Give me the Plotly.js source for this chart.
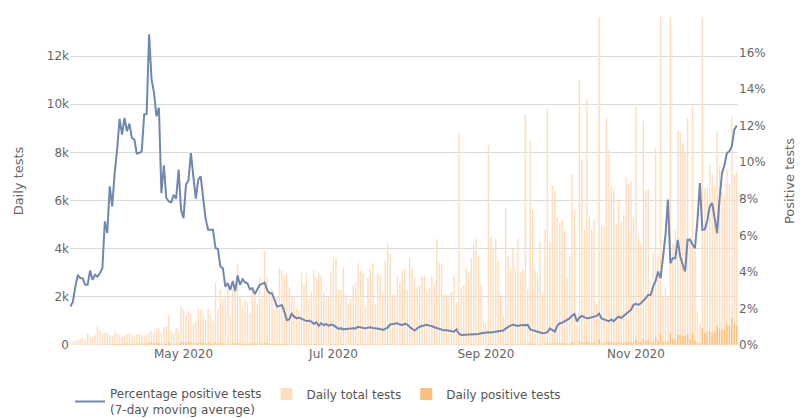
<!DOCTYPE html>
<html>
<head>
<meta charset="utf-8">
<script src="https://cdn.plot.ly/plotly-3.0.1.min.js"></script>
<style>html,body{margin:0;padding:0;background:#fff;}#chart{width:807px;height:418px;}</style>
</head>
<body>
<div id="chart"></div>
<script>
// First date of the series (one value per day)
const startDate = '2020-03-16';

const dailyTotalTests = [
  120,150,180,220,250,300,220,480,380,300,420,750,600,450,
  500,550,420,380,560,500,450,350,400,480,520,430,380,450,500,420,380,
  450,550,600,500,650,700,550,750,800,1250,600,500,700,550,1600,
  1500,1200,1400,1300,900,1000,1500,1450,1300,1050,1550,1300,1000,
  2600,
  1500,2300,1900,2000,2400,1200,2300,2400,3400,2000,1600,
  1900,1800,1300,2400,2100,1700,2800,1900,3900,
  2800,2200,2300,1500,2000,3200,3100,2900,3000,2400,2000,2000,1500,1400,3000,2600,3000,1900,2200,3100,2800,3000,2900,2200,1900,2000,3000,
  3700,3600,2300,2300,3200,2100,1700,1900,2500,2600,
  3400,3100,3000,1600,2800,3200,3400,1700,3000,2900,
  2200,3500,4200,3800,2100,2100,2900,2600,3100,3200,
  2300,3600,3200,2800,2400,2500,2900,2900,2300,2400,
  2900,2500,4400,3400,3400,2100,2100,2100,2200,2900,
  1800,8800,2400,2500,3200,3000,3600,4200,4400,
  3700,2500,1000,900,8300,4500,4000,4400,3500,2100,
  1200,5700,3700,3200,4000,3200,4400,3000,3100,9600,
  2300,8500,5600,3100,2900,4300,2200,4800,9800,4300,
  6600,6400,5300,5100,5200,4800,2800,3700,7100,5600,
  800,11000,7700,4800,10200,5300,4800,5200,1700,16000,
  5000,4900,9400,8100,
  6600,6500,5000,6000,5100,5400,7000,6700,6800,5300,
  9900,4500,4200,9300,6400,6500,2200,3800,8200,3700,
  16000,2000,2400,2000,16000,4200,4800,8900,8900,8400,
  8000,9400,4500,9900,3900,1400,900,16000,6500,6500,
  7500,7100,6600,8900,7500,6400,6200,7300,6700,9500,
  7100,7200
];

const dailyPositiveTests = [
  3,4,5,7,8,10,8,18,15,12,17,32,27,20,
  28,35,30,28,45,50,55,42,50,58,62,50,44,52,58,60,55,
  62,80,95,65,80,85,50,60,60,100,48,38,55,40,120,
  110,85,120,110,80,80,95,90,80,60,80,60,48,
  110,
  60,75,60,55,60,35,65,70,100,60,50,
  55,50,40,70,60,50,70,50,90,
  70,50,50,35,40,55,50,45,40,35,30,28,22,20,40,32,35,25,28,36,32,33,30,25,22,24,33,
  38,36,22,20,30,20,17,20,24,25,
  30,30,29,16,28,30,32,17,30,30,
  22,33,40,40,22,24,30,27,32,33,
  22,33,30,25,22,23,26,26,20,20,
  24,20,36,25,24,15,15,15,16,20,
  14,50,14,14,18,18,20,24,26,
  30,18,8,6,60,30,28,32,25,16,
  10,45,30,28,35,30,40,28,28,90,
  20,80,50,26,25,35,18,40,90,45,
  80,85,75,70,75,70,40,55,110,90,
  12,180,120,80,160,90,80,85,30,230,
  80,75,150,130,
  110,110,85,100,90,95,130,130,140,110,
  220,110,110,250,190,200,80,150,330,160,
  450,130,150,120,500,250,280,450,420,380,
  350,450,250,480,200,80,60,700,500,550,
  600,500,550,800,700,600,650,850,800,1100,
  850,800
];

const percentPositive7d = [
  2.10,2.37,3.19,3.84,3.65,3.65,3.29,3.29,4.07,3.56,
  3.84,3.74,3.93,4.20,6.76,6.12,8.68,7.58,9.41,10.68,
  12.37,11.51,12.42,11.69,12.11,11.32,11.23,10.47,10.50,10.59,
  12.60,12.64,16.99,14.52,13.79,12.51,12.97,8.31,9.82,8.04,
  7.85,7.80,8.22,8.00,9.59,7.40,6.94,8.77,9.00,10.50,
  9.22,8.00,9.04,9.22,8.00,6.90,
  6.30,6.30,6.30,5.30,5.25,4.29,4.20,3.19,3.38,3.01,
  3.50,2.95,3.80,3.29,3.60,3.43,3.38,3.05,3.10,2.79,
  3.01,3.29,3.34,3.41,3.01,2.83,2.83,2.47,2.10,2.14,
  2.19,1.83,1.37,1.40,1.70,1.55,1.46,1.50,1.43,1.37,
  1.31,1.33,1.28,1.15,1.25,1.05,1.20,1.08,1.15,1.05,
  1.12,1.08,1.00,0.88,0.92,
  0.85,0.88,0.91,0.90,0.92,0.91,1.00,0.98,0.94,0.91,
  0.95,0.97,0.93,0.92,0.91,0.88,0.82,0.88,0.95,1.12,
  1.15,1.18,1.19,1.12,1.10,1.16,1.12,0.98,0.88,0.79,
  0.90,1.00,1.04,1.08,1.10,1.06,1.04,0.97,0.92,0.86,
  0.82,0.80,0.80,0.79,0.76,0.73,0.86,0.62,0.55,0.56,
  0.55,0.57,0.55,0.58,0.60,
  0.60,0.64,0.66,0.72,0.70,0.68,0.70,0.73,0.72,0.75,
  0.79,0.90,1.00,1.06,1.10,1.06,1.04,1.08,1.10,1.08,
  1.10,0.85,0.80,0.75,0.72,0.66,0.64,0.66,0.70,0.91,
  0.80,0.73,1.05,1.19,1.22,1.30,1.37,1.45,1.60,1.70,
  1.28,1.50,1.59,1.52,1.46,1.48,1.52,1.55,1.59,1.72,
  1.45,1.40,1.35,1.30,
  1.40,1.30,1.45,1.55,1.48,1.60,1.74,1.82,1.92,2.20,
  2.25,2.19,2.28,2.40,2.56,2.74,2.75,3.20,3.50,4.02,
  3.65,4.80,6.00,7.95,4.47,4.75,4.75,5.75,4.84,4.40,
  4.02,5.75,5.75,5.50,5.30,6.80,8.86,6.30,6.32,6.80,
  7.58,7.76,7.00,6.12,8.00,9.41,9.86,10.50,10.59,10.87,
  11.78,12.00
];

const seriesNames = ['Percentage positive tests<br>(7-day moving average)', 'Daily total tests', 'Daily positive tests'];
const axisTitles = ['Daily tests', 'Positive tests'];

// consecutive daily dates for the category axis
const dates = [];
{
  const d0 = new Date(startDate + 'T00:00:00Z');
  for (let i = 0; i < dailyTotalTests.length; i++) {
    const d = new Date(d0.getTime() + i * 86400000);
    dates.push(d.toISOString().slice(0, 10));
  }
}

const FONT = 'DejaVu Sans, Verdana, sans-serif';
const TXT = '#666';

const traces = [
  {
    type: 'scatter', mode: 'lines', name: seriesNames[0],
    x: dates, y: percentPositive7d, yaxis: 'y2',
    line: {color: '#6f87b1', width: 2},
    hoverinfo: 'none'
  },
  {
    type: 'bar', name: seriesNames[1],
    x: dates, y: dailyTotalTests, yaxis: 'y',
    marker: {color: '#fddfc0', line: {width: 0}},
    hoverinfo: 'none'
  },
  {
    type: 'bar', name: seriesNames[2],
    x: dates, y: dailyPositiveTests, yaxis: 'y',
    marker: {color: '#fbbf7e', line: {width: 0}},
    hoverinfo: 'none'
  }
];

const layout = {
  width: 807, height: 418,
  margin: {l: 70, r: 69, t: 17, b: 73, autoexpand: false},
  paper_bgcolor: '#fff', plot_bgcolor: '#fff',
  font: {family: FONT, size: 12, color: TXT},
  barmode: 'overlay',
  bargap: 0.4,
  showlegend: true,
  legend: {
    orientation: 'h', x: 0, xanchor: 'left', y: -0.105, yanchor: 'top',
    font: {family: FONT, size: 12, color: '#555'},
    traceorder: 'normal'
  },
  xaxis: {
    type: 'date',
    range: ['2020-03-15 20:00', '2020-12-12 12:00'],
    tick0: '2020-05-01', dtick: 'M2', tickformat: '%b %Y',
    showgrid: false, zeroline: false, showline: false, ticks: '',
    tickfont: {family: FONT, size: 12, color: TXT}
  },
  yaxis: {
    range: [0, 13620], dtick: 2000, tickformat: '~s',
    showgrid: true, gridcolor: '#dadada', gridwidth: 1,
    zeroline: false, showline: false, ticks: '',
    tickfont: {family: FONT, size: 12, color: TXT},
    title: {text: axisTitles[0], font: {family: FONT, size: 13, color: TXT}, standoff: 20}
  },
  yaxis2: {
    overlaying: 'y', side: 'right',
    range: [0, 17.94], dtick: 2, ticksuffix: '%',
    showgrid: false, zeroline: false, showline: false, ticks: '',
    tickfont: {family: FONT, size: 12, color: TXT},
    title: {text: axisTitles[1], font: {family: FONT, size: 13, color: TXT}, standoff: 20}
  }
};

Plotly.newPlot('chart', traces, layout, {displayModeBar: false, staticPlot: true});
</script>
</body>
</html>
